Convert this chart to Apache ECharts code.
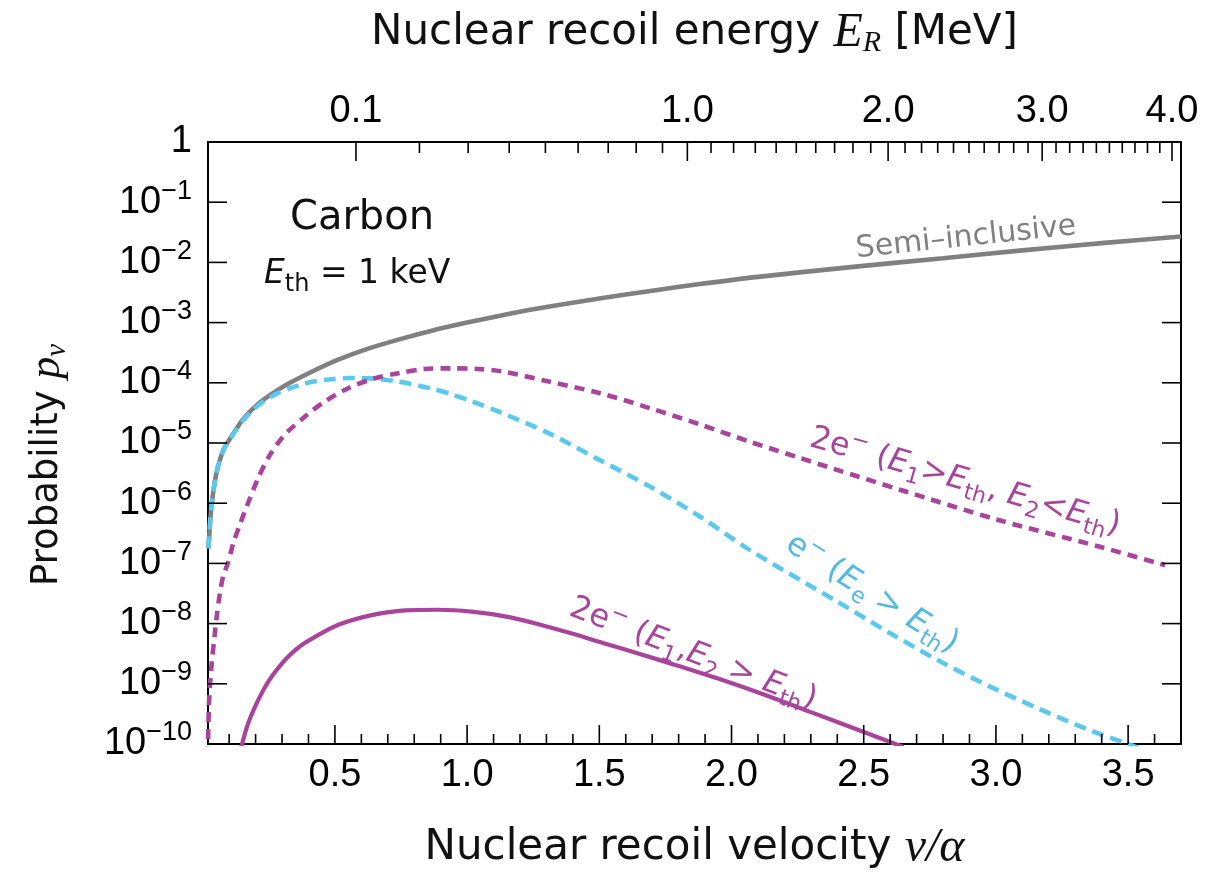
<!DOCTYPE html>
<html><head><meta charset="utf-8">
<script src="https://cdn.jsdelivr.net/npm/echarts@6/dist/echarts.min.js"></script>
<style>html,body{margin:0;padding:0;background:#fff}#c{width:1230px;height:877px}</style>
</head><body><div id="c"></div>
<script>
// ---- axis ranges / ticks ----
const xMin = 0.02, xMax = 3.7;
const yMin = 1e-10, yMax = 1;
const bottomMajorTicks = [0.5, 1.0, 1.5, 2.0, 2.5, 3.0, 3.5];
const bottomMinorTicks = [0.1,0.2,0.3,0.4,0.6,0.7,0.8,0.9,1.1,1.2,1.3,1.4,1.6,1.7,1.8,1.9,2.1,2.2,2.3,2.4,2.6,2.7,2.8,2.9,3.1,3.2,3.3,3.4,3.6];
const topEnergyLabels = [0.1, 1.0, 2.0, 3.0, 4.0];           // MeV
const topEnergyMinor = [0.2,0.3,0.4,0.5,0.6,0.7,0.8,0.9,1.1,1.2,1.3,1.4,1.5,1.6,1.7,1.8,1.9,2.1,2.2,2.3,2.4,2.5,2.6,2.7,2.8,2.9,3.1,3.2,3.3,3.4,3.5,3.6,3.7,3.8,3.9];
const yTicks = [1e-10,1e-9,1e-8,1e-7,1e-6,1e-5,1e-4,1e-3,1e-2,1e-1,1];
// carbon: v/alpha = K * sqrt(E_R / MeV)
const K_CARBON = 1.833;
const vOfE = E => K_CARBON * Math.sqrt(E);
const topMajorPos = topEnergyLabels.map(vOfE);
const topMinorPos = topEnergyMinor.map(vOfE);

// ---- series (v/alpha, log10 p) ----
const semiV   = [0.022,0.026,0.030,0.035,0.042,0.052,0.065,0.08,0.10,0.125,0.15,0.19,0.23,0.28,0.33,0.42,0.51,0.62,0.75,0.87,1.00,1.12,1.25,1.50,1.70,1.88,2.10,2.47,2.80,3.10,3.40,3.70];
const semiLog = [-6.75,-6.45,-6.20,-5.98,-5.75,-5.50,-5.28,-5.10,-4.95,-4.78,-4.62,-4.43,-4.28,-4.13,-4.00,-3.80,-3.62,-3.44,-3.27,-3.13,-3.00,-2.89,-2.78,-2.60,-2.47,-2.36,-2.24,-2.07,-1.93,-1.80,-1.68,-1.57];

const cyanV   = [0.022,0.026,0.030,0.035,0.042,0.052,0.065,0.08,0.10,0.125,0.15,0.19,0.23,0.28,0.33,0.38,0.43,0.49,0.55,0.60,0.66,0.74,0.87,0.94,1.02,1.12,1.31,1.50,1.69,1.88,2.07,2.41,2.60,2.79,2.98,3.17,3.355,3.50,3.56];
const cyanLog = [-6.75,-6.45,-6.20,-5.98,-5.75,-5.50,-5.28,-5.10,-4.96,-4.79,-4.64,-4.45,-4.31,-4.18,-4.09,-4.02,-3.97,-3.94,-3.92,-3.92,-3.935,-3.98,-4.10,-4.19,-4.31,-4.48,-4.84,-5.28,-5.72,-6.22,-6.78,-7.66,-8.16,-8.63,-9.05,-9.43,-9.77,-10.0,-10.1];

const magDV   = [0.0195,0.021,0.025,0.034,0.045,0.053,0.065,0.078,0.095,0.116,0.14,0.166,0.21,0.254,0.311,0.387,0.462,0.55,0.64,0.74,0.84,0.94,1.04,1.13,1.31,1.50,1.69,1.88,2.07,2.26,2.38,2.64,3.01,3.39,3.64];
const magDLog = [-10.2,-9.77,-9.2,-8.66,-8.2,-7.88,-7.5,-7.20,-7.0,-6.66,-6.36,-6.06,-5.58,-5.20,-4.86,-4.56,-4.31,-4.09,-3.94,-3.84,-3.77,-3.76,-3.77,-3.81,-3.98,-4.17,-4.42,-4.69,-4.98,-5.25,-5.42,-5.78,-6.28,-6.72,-7.03];

const magSV   = [0.143,0.15,0.17,0.198,0.23,0.261,0.30,0.337,0.38,0.425,0.513,0.639,0.765,0.89,1.017,1.143,1.27,1.40,1.52,1.65,1.79,1.96,2.13,2.30,2.47,2.65];
const magSLog = [-10.1,-9.98,-9.68,-9.38,-9.10,-8.88,-8.66,-8.49,-8.34,-8.22,-8.02,-7.86,-7.78,-7.77,-7.80,-7.88,-8.01,-8.17,-8.33,-8.50,-8.69,-8.93,-9.19,-9.47,-9.75,-10.05];

const pairs = (xs, ls) => xs.map((x, i) => [x, Math.pow(10, ls[i])]);

const GRAY = '#808080', CYAN = '#5BC8EE', MAG = '#A8449C', CYANTXT = '#52B9E0';
const SANS = '"DejaVu Sans"', TICKF = '"Liberation Sans"', SERIF = '"Liberation Serif"';

const chart = echarts.init(document.getElementById('c'), null, {renderer: 'canvas'});

chart.setOption({
  animation: false,
  backgroundColor: '#fff',
  grid: {left: 208, right: 49, top: 142, bottom: 133, containLabel: false, outerBoundsMode: 'none'},
  xAxis: [
    {
      type: 'value', min: xMin, max: xMax, position: 'bottom', splitLine: {show: false},
      axisLine: {show: true, onZero: false, lineStyle: {color: '#000', width: 2}},
      axisTick: {show: false},
      axisLabel: {show: true, customValues: bottomMajorTicks, margin: 13, color: '#000', fontSize: 38, fontFamily: TICKF,
        formatter: v => v.toFixed(1)},
      name: 'Nuclear recoil velocity {m|v/α}', nameLocation: 'middle', nameGap: 80,
      nameTextStyle: {fontSize: 42, fontFamily: SANS, color: '#111',
        rich: {m: {fontSize: 48, fontFamily: SERIF, fontStyle: 'italic', color: '#111'}}}
    },
    {
      type: 'value', min: xMin, max: xMax, position: 'top', splitLine: {show: false},
      axisLine: {show: true, onZero: false, lineStyle: {color: '#000', width: 2}},
      axisTick: {show: false},
      axisLabel: {show: true, customValues: topMajorPos, margin: 11, color: '#000', fontSize: 38, fontFamily: TICKF,
        formatter: v => {
          let best = 0;
          topMajorPos.forEach((p, i) => { if (Math.abs(p - v) < Math.abs(topMajorPos[best] - v)) best = i; });
          return topEnergyLabels[best].toFixed(1);
        }},
      name: 'Nuclear recoil energy {m|E}{sub|R} [MeV]', nameLocation: 'middle', nameGap: 84,
      nameTextStyle: {fontSize: 42, fontFamily: SANS, color: '#111',
        rich: {m: {fontSize: 48, fontFamily: SERIF, fontStyle: 'italic', color: '#111'},
               sub: {fontSize: 30, fontFamily: SERIF, fontStyle: 'italic', color: '#111', padding: [20, 0, 0, 0]}}}
    }
  ],
  yAxis: [
    {
      type: 'log', logBase: 10, min: yMin, max: yMax, position: 'left', splitNumber: 10,
      splitLine: {show: false},
      axisLine: {show: true, onZero: false, lineStyle: {color: '#000', width: 2}},
      axisTick: {show: false},
      axisLabel: {show: true, customValues: yTicks, margin: 16, color: '#000', fontSize: 38, fontFamily: TICKF,
        formatter: v => {
          const n = Math.round(Math.log10(v));
          return n === 0 ? '1' : '10{sup|−' + (-n) + '}';
        },
        rich: {sup: {fontSize: 27, fontFamily: TICKF, color: '#000', padding: [0, 0, 22, 0]}}}
    },
    {
      type: 'log', logBase: 10, min: yMin, max: yMax, position: 'right', splitNumber: 10,
      splitLine: {show: false},
      axisLine: {show: true, onZero: false, lineStyle: {color: '#000', width: 2}},
      axisTick: {show: false},
      axisLabel: {show: false}
    }
  ],
  series: [
    {name: 'Semi-inclusive', type: 'line', data: pairs(semiV, semiLog), showSymbol: false, smooth: 0.3,
     lineStyle: {color: GRAY, width: 4.6}, z: 2, clip: true},
    {name: 'e- (Ee > Eth)', type: 'line', data: pairs(cyanV, cyanLog), showSymbol: false, smooth: 0.3,
     lineStyle: {color: CYAN, width: 4.6, type: [12, 7]}, z: 3, clip: true},
    {name: '2e- (E1>Eth, E2<Eth)', type: 'line', data: pairs(magDV, magDLog), showSymbol: false, smooth: 0.3,
     lineStyle: {color: MAG, width: 4.6, type: [10, 7]}, z: 4, clip: true},
    {name: '2e- (E1,E2 > Eth)', type: 'line', data: pairs(magSV, magSLog), showSymbol: false, smooth: 0.3,
     lineStyle: {color: MAG, width: 4.2}, z: 4, clip: true}
  ]
});

// ---- tick marks, placed through the axes' own scales ----
const gridFinder = {xAxisIndex: 0, yAxisIndex: 0};
const TICK_STYLE = {stroke: '#000', lineWidth: 1.6};
const ticks = [];
function xTick(v, atTop, len) {
  const p = chart.convertToPixel(gridFinder, [v, atTop ? yMax : yMin]);
  const d = atTop ? len : -len;
  ticks.push({type: 'line', z: 50, silent: true, shape: {x1: p[0], y1: p[1], x2: p[0], y2: p[1] + d}, style: TICK_STYLE});
}
function yTick(val, len) {
  const pl = chart.convertToPixel(gridFinder, [xMin, val]);
  const pr = chart.convertToPixel(gridFinder, [xMax, val]);
  ticks.push({type: 'line', z: 50, silent: true, shape: {x1: pl[0], y1: pl[1], x2: pl[0] + len, y2: pl[1]}, style: TICK_STYLE});
  ticks.push({type: 'line', z: 50, silent: true, shape: {x1: pr[0], y1: pr[1], x2: pr[0] - len, y2: pr[1]}, style: TICK_STYLE});
}
bottomMajorTicks.forEach(v => xTick(v, false, 19));
bottomMinorTicks.forEach(v => xTick(v, false, 10));
topMajorPos.forEach(v => xTick(v, true, 19));
topMinorPos.forEach(v => xTick(v, true, 11));
yTicks.forEach(v => yTick(v, 19));

const sub = (c, fs) => ({fontSize: fs, fontFamily: SANS, fill: c, padding: [20, 0, 0, 0]});
const sup = (c, fs) => ({fontSize: fs, fontFamily: SANS, fill: c, padding: [0, 0, 20, 0]});
const it = (c, fs) => ({fontSize: fs, fontFamily: SANS, fontStyle: 'italic', fill: c});

const texts = [
  {type: 'text', x: 47, y: 586, rotation: Math.PI / 2, z: 10,
   style: {text: 'Probability {m|p}{s|v}', fontSize: 37, fontFamily: SANS, fill: '#111', align: 'left', verticalAlign: 'middle',
     rich: {m: {fontSize: 44, fontFamily: SERIF, fontStyle: 'italic', fill: '#111'},
            s: {fontSize: 29, fontFamily: SERIF, fontStyle: 'italic', fill: '#111', padding: [20, 0, 0, 0]}}}},
  {type: 'text', x: 362, y: 219, z: 10, style: {text: 'Carbon', fontSize: 40, fontFamily: SANS, fill: '#111', align: 'center', verticalAlign: 'middle'}},
  {type: 'text', x: 264, y: 274, z: 10, style: {text: '{it|E}{sub|th} = 1 keV', fontSize: 33, fontFamily: SANS, fill: '#111', align: 'left', verticalAlign: 'middle',
    rich: {it: it('#111', 33), sub: {fontSize: 24, fontFamily: SANS, fill: '#111', padding: [22, 0, 0, 0]}}}},
  {type: 'text', x: 966, y: 238, rotation: 6 * Math.PI / 180, z: 10,
   style: {text: 'Semi–inclusive', fontSize: 30, fontFamily: SANS, fill: GRAY, align: 'center', verticalAlign: 'middle'}},
  {type: 'text', x: 965, y: 482, rotation: -16 * Math.PI / 180, z: 10,
   style: {text: '2e{sup|−} ({it|E}{sub|1}>{it|E}{sub|th}, {it|E}{sub|2}<{it|E}{sub|th})', fontSize: 32, fontFamily: SANS, fill: MAG, align: 'center', verticalAlign: 'middle',
     rich: {it: it(MAG, 32), sup: sup(MAG, 22), sub: sub(MAG, 22)}}},
  {type: 'text', x: 872, y: 594, rotation: -32 * Math.PI / 180, z: 10,
   style: {text: 'e{sup|−} ({it|E}{sub|e} > {it|E}{sub|th})', fontSize: 32, fontFamily: SANS, fill: CYANTXT, align: 'center', verticalAlign: 'middle',
     rich: {it: it(CYANTXT, 32), sup: sup(CYANTXT, 22), sub: sub(CYANTXT, 22)}}},
  {type: 'text', x: 693, y: 654, rotation: -21 * Math.PI / 180, z: 10,
   style: {text: '2e{sup|−} ({it|E}{sub|1},{it|E}{sub|2} > {it|E}{sub|th})', fontSize: 32, fontFamily: SANS, fill: MAG, align: 'center', verticalAlign: 'middle',
     rich: {it: it(MAG, 32), sup: sup(MAG, 22), sub: sub(MAG, 22)}}}
];

chart.setOption({graphic: texts.concat(ticks)});
</script></body></html>
